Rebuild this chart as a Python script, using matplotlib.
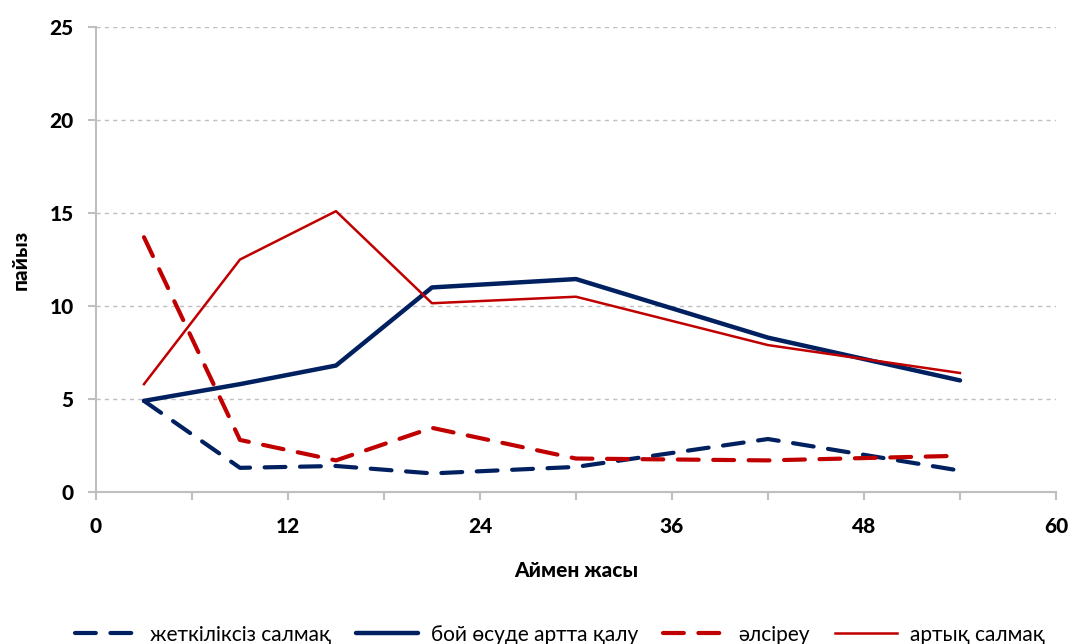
import matplotlib
matplotlib.use("Agg")
import matplotlib.pyplot as plt

plt.rcParams['font.family'] = ['Lato', 'DejaVu Sans']

months = [3, 9, 15, 21, 30, 42, 54]
underweight = [4.9, 1.3, 1.4, 1.0, 1.35, 2.85, 1.15]
stunting = [4.9, 5.8, 6.8, 11.0, 11.45, 8.3, 6.0]
wasting = [13.7, 2.8, 1.7, 3.45, 1.8, 1.7, 1.95]
overweight = [5.8, 12.5, 15.1, 10.15, 10.5, 7.9, 6.4]

names = ["жеткіліксіз салмақ", "бой өсуде артта қалу", "әлсіреу", "артық салмақ"]
xticks = [0, 12, 24, 36, 48, 60]
xminor = [6, 18, 30, 42, 54]
yticks = [0, 5, 10, 15, 20, 25]
navy = "#002060"
red = "#C00000"

fig = plt.figure(figsize=(10.7, 6.44), dpi=100)
ax = fig.add_axes([0.0897, 0.236, 0.8972, 0.722])

ax.plot(months, underweight, color=navy, lw=3, ls=(0, (5, 3.5)), dash_capstyle='round', label=names[0])
ax.plot(months, stunting, color=navy, lw=3.2, solid_capstyle='round', label=names[1])
ax.plot(months, wasting, color=red, lw=3, ls=(0, (5, 3.5)), dash_capstyle='round', label=names[2])
ax.plot(months, overweight, color=red, lw=1.8, label=names[3])

ax.set_xlim(0, 60)
ax.set_ylim(0, 25)
ax.set_xticks(xticks, [str(v) for v in xticks], fontsize=15, fontweight='black')
ax.set_xticks(xminor, minor=True)
ax.set_yticks(yticks, [str(v) for v in yticks], fontsize=15, fontweight='black')
ax.grid(axis='y', color='#bfbfbf', ls=(0, (3, 3)), lw=1)
ax.set_axisbelow(True)
for s in ['top', 'right']:
    ax.spines[s].set_visible(False)
for s in ['left', 'bottom']:
    ax.spines[s].set_color('#bfbfbf')
    ax.spines[s].set_linewidth(1.5)
ax.tick_params(which='both', color='#bfbfbf', width=1.5, length=6)
ax.tick_params(axis='x', pad=12)
ax.tick_params(axis='y', pad=10)

ax.set_xlabel("Аймен жасы", fontsize=15, fontweight='black', labelpad=18)
ax.set_ylabel("пайыз", fontsize=15, fontweight='black', labelpad=14)

fig.legend(loc='lower center', bbox_to_anchor=(0.523, -0.03), ncol=4, frameon=False,
           fontsize=15, handlelength=3.0, columnspacing=1.2, handletextpad=0.6)

fig.savefig("out.png", dpi=100)
